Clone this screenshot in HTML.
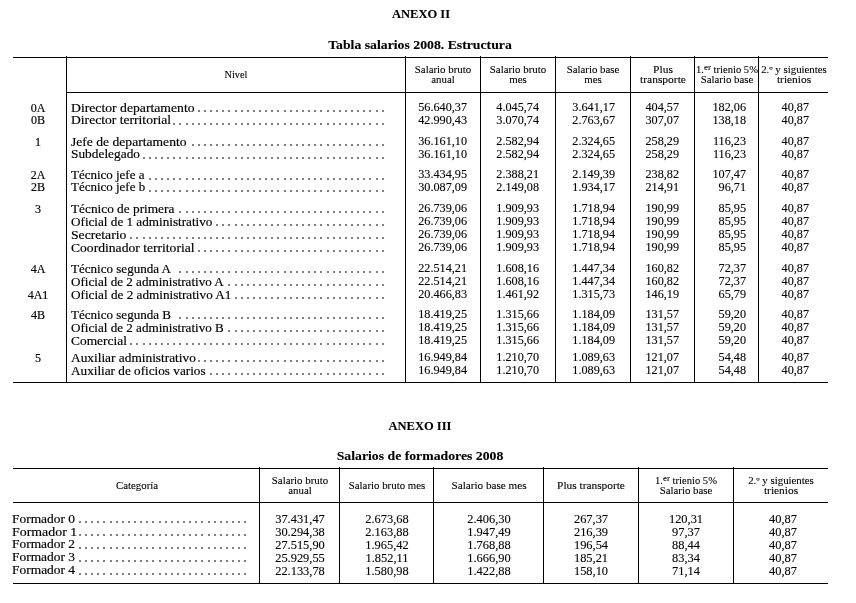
<!DOCTYPE html><html><head><meta charset='utf-8'><style>
html,body{margin:0;padding:0;background:#fff;}
body{filter:grayscale(1);width:856px;height:603px;position:relative;overflow:hidden;font-family:'Liberation Serif', serif;color:#000;}
.l{position:absolute;background:#000;}
.t{position:absolute;line-height:1;white-space:nowrap;-webkit-text-stroke:0.1px #000;}
.t.n{-webkit-text-stroke:0.12px #000;}
.t.lab,.t.lab2{-webkit-text-stroke:0.18px #000;}
.t sup{font-size:0.85em;vertical-align:0;position:relative;top:-0.38em;line-height:0;}
i{position:absolute;width:2px;height:2px;background:#808080;}
.d{position:absolute;height:1.5px;background-image:linear-gradient(to right, transparent 2.415px, #808080 2.415px, #808080 3.715px, transparent 3.715px);background-size:6.13px 1.5px;background-repeat:repeat-x;background-position:right top;}
</style></head><body>
<div class="t" style='left:120.50px;top:7.34px;width:600px;font-size:13.0px;text-align:center;font-weight:bold;transform:scaleX(0.962);transform-origin:center;'>ANEXO II</div>
<div class="t" style='left:120.40px;top:38.55px;width:600px;font-size:12.5px;text-align:center;font-weight:bold;transform:scaleX(1.1);transform-origin:center;'>Tabla salarios 2008. Estructura</div>
<div class="t" style='left:120.30px;top:419.04px;width:600px;font-size:13.0px;text-align:center;font-weight:bold;transform:scaleX(0.962);transform-origin:center;'>ANEXO III</div>
<div class="t" style='left:120.40px;top:449.85px;width:600px;font-size:12.5px;text-align:center;font-weight:bold;transform:scaleX(1.1);transform-origin:center;'>Salarios de formadores 2008</div>
<div class=l style='left:13px;top:57px;width:815px;height:1px'></div>
<div class=l style='left:66px;top:92px;width:762px;height:1px'></div>
<div class=l style='left:13px;top:382px;width:815px;height:1px'></div>
<div class=l style='left:66px;top:56px;width:1px;height:327px'></div>
<div class=l style='left:405px;top:56px;width:1px;height:327px'></div>
<div class=l style='left:480px;top:56px;width:1px;height:327px'></div>
<div class=l style='left:555px;top:56px;width:1px;height:327px'></div>
<div class=l style='left:630px;top:56px;width:1px;height:327px'></div>
<div class=l style='left:694px;top:56px;width:1px;height:327px'></div>
<div class=l style='left:758px;top:56px;width:1px;height:327px'></div>
<div class="t" style='left:-64.00px;top:69.93px;width:600px;font-size:9.6px;text-align:center;transform:scaleX(1.0780199999999998);transform-origin:center;'>Nivel</div>
<div class="t" style='left:143.00px;top:64.93px;width:600px;font-size:9.6px;text-align:center;transform:scaleX(1.13);transform-origin:center;'>Salario bruto</div>
<div class="t" style='left:143.00px;top:75.23px;width:600px;font-size:9.6px;text-align:center;transform:scaleX(1.13);transform-origin:center;'>anual</div>
<div class="t" style='left:218.00px;top:64.93px;width:600px;font-size:9.6px;text-align:center;transform:scaleX(1.13);transform-origin:center;'>Salario bruto</div>
<div class="t" style='left:218.00px;top:75.23px;width:600px;font-size:9.6px;text-align:center;transform:scaleX(1.13);transform-origin:center;'>mes</div>
<div class="t" style='left:293.00px;top:64.93px;width:600px;font-size:9.6px;text-align:center;transform:scaleX(1.13);transform-origin:center;'>Salario base</div>
<div class="t" style='left:293.00px;top:75.23px;width:600px;font-size:9.6px;text-align:center;transform:scaleX(1.13);transform-origin:center;'>mes</div>
<div class="t" style='left:362.50px;top:64.93px;width:600px;font-size:9.6px;text-align:center;transform:scaleX(1.19328);transform-origin:center;'>Plus</div>
<div class="t" style='left:362.50px;top:75.23px;width:600px;font-size:9.6px;text-align:center;transform:scaleX(1.1978);transform-origin:center;'>transporte</div>
<div class="t" style='left:426.50px;top:64.93px;width:600px;font-size:9.6px;text-align:center;transform:scaleX(1.1017499999999998);transform-origin:center;'>1.<sup>er</sup> trienio 5%</div>
<div class="t" style='left:426.50px;top:75.23px;width:600px;font-size:9.6px;text-align:center;transform:scaleX(1.13);transform-origin:center;'>Salario base</div>
<div class="t" style='left:493.50px;top:64.93px;width:600px;font-size:9.6px;text-align:center;transform:scaleX(1.13);transform-origin:center;'>2.º y siguientes</div>
<div class="t" style='left:493.50px;top:75.23px;width:600px;font-size:9.6px;text-align:center;transform:scaleX(1.1864999999999999);transform-origin:center;'>trienios</div>
<div class="t lab2" style='left:-262.00px;top:101.65px;width:600px;font-size:12.8px;text-align:center;transform:scaleX(0.94);transform-origin:center;'>0A</div>
<div class="t lab" style='left:70.70px;top:101.65px;width:600px;font-size:12.8px;text-align:left;transform:scaleX(1.07);transform-origin:left;'>Director departamento</div>
<i style='left:382px;top:110px'></i>
<i style='left:376px;top:110px'></i>
<i style='left:369px;top:110px'></i>
<i style='left:363px;top:110px'></i>
<i style='left:357px;top:110px'></i>
<i style='left:351px;top:110px'></i>
<i style='left:345px;top:110px'></i>
<i style='left:339px;top:110px'></i>
<i style='left:333px;top:110px'></i>
<i style='left:327px;top:110px'></i>
<i style='left:320px;top:110px'></i>
<i style='left:314px;top:110px'></i>
<i style='left:308px;top:110px'></i>
<i style='left:302px;top:110px'></i>
<i style='left:296px;top:110px'></i>
<i style='left:290px;top:110px'></i>
<i style='left:284px;top:110px'></i>
<i style='left:277px;top:110px'></i>
<i style='left:271px;top:110px'></i>
<i style='left:265px;top:110px'></i>
<i style='left:259px;top:110px'></i>
<i style='left:253px;top:110px'></i>
<i style='left:247px;top:110px'></i>
<i style='left:241px;top:110px'></i>
<i style='left:235px;top:110px'></i>
<i style='left:228px;top:110px'></i>
<i style='left:222px;top:110px'></i>
<i style='left:216px;top:110px'></i>
<i style='left:210px;top:110px'></i>
<i style='left:204px;top:110px'></i>
<i style='left:198px;top:110px'></i>
<div class="t n" style='left:-133.00px;top:100.19px;width:600px;font-size:13.0px;text-align:right;transform:scaleX(0.9385);transform-origin:right;'>56.640,37</div>
<div class="t n" style='left:-61.00px;top:100.19px;width:600px;font-size:13.0px;text-align:right;transform:scaleX(0.9385);transform-origin:right;'>4.045,74</div>
<div class="t n" style='left:14.50px;top:100.19px;width:600px;font-size:13.0px;text-align:right;transform:scaleX(0.9385);transform-origin:right;'>3.641,17</div>
<div class="t n" style='left:79.00px;top:100.19px;width:600px;font-size:13.0px;text-align:right;transform:scaleX(0.9385);transform-origin:right;'>404,57</div>
<div class="t n" style='left:146.00px;top:100.19px;width:600px;font-size:13.0px;text-align:right;transform:scaleX(0.9385);transform-origin:right;'>182,06</div>
<div class="t n" style='left:208.80px;top:100.19px;width:600px;font-size:13.0px;text-align:right;transform:scaleX(0.9385);transform-origin:right;'>40,87</div>
<div class="t lab2" style='left:-262.00px;top:114.35px;width:600px;font-size:12.8px;text-align:center;transform:scaleX(0.94);transform-origin:center;'>0B</div>
<div class="t lab" style='left:70.70px;top:114.35px;width:600px;font-size:12.8px;text-align:left;transform:scaleX(1.0627);transform-origin:left;'>Director territorial</div>
<i style='left:382px;top:123px'></i>
<i style='left:376px;top:123px'></i>
<i style='left:369px;top:123px'></i>
<i style='left:363px;top:123px'></i>
<i style='left:357px;top:123px'></i>
<i style='left:351px;top:123px'></i>
<i style='left:345px;top:123px'></i>
<i style='left:339px;top:123px'></i>
<i style='left:333px;top:123px'></i>
<i style='left:327px;top:123px'></i>
<i style='left:320px;top:123px'></i>
<i style='left:314px;top:123px'></i>
<i style='left:308px;top:123px'></i>
<i style='left:302px;top:123px'></i>
<i style='left:296px;top:123px'></i>
<i style='left:290px;top:123px'></i>
<i style='left:284px;top:123px'></i>
<i style='left:277px;top:123px'></i>
<i style='left:271px;top:123px'></i>
<i style='left:265px;top:123px'></i>
<i style='left:259px;top:123px'></i>
<i style='left:253px;top:123px'></i>
<i style='left:247px;top:123px'></i>
<i style='left:241px;top:123px'></i>
<i style='left:235px;top:123px'></i>
<i style='left:228px;top:123px'></i>
<i style='left:222px;top:123px'></i>
<i style='left:216px;top:123px'></i>
<i style='left:210px;top:123px'></i>
<i style='left:204px;top:123px'></i>
<i style='left:198px;top:123px'></i>
<i style='left:192px;top:123px'></i>
<i style='left:186px;top:123px'></i>
<i style='left:179px;top:123px'></i>
<i style='left:173px;top:123px'></i>
<div class="t n" style='left:-133.00px;top:112.89px;width:600px;font-size:13.0px;text-align:right;transform:scaleX(0.9385);transform-origin:right;'>42.990,43</div>
<div class="t n" style='left:-61.00px;top:112.89px;width:600px;font-size:13.0px;text-align:right;transform:scaleX(0.9385);transform-origin:right;'>3.070,74</div>
<div class="t n" style='left:14.50px;top:112.89px;width:600px;font-size:13.0px;text-align:right;transform:scaleX(0.9385);transform-origin:right;'>2.763,67</div>
<div class="t n" style='left:79.00px;top:112.89px;width:600px;font-size:13.0px;text-align:right;transform:scaleX(0.9385);transform-origin:right;'>307,07</div>
<div class="t n" style='left:146.00px;top:112.89px;width:600px;font-size:13.0px;text-align:right;transform:scaleX(0.9385);transform-origin:right;'>138,18</div>
<div class="t n" style='left:208.80px;top:112.89px;width:600px;font-size:13.0px;text-align:right;transform:scaleX(0.9385);transform-origin:right;'>40,87</div>
<div class="t lab2" style='left:-262.00px;top:135.55px;width:600px;font-size:12.8px;text-align:center;transform:scaleX(0.94);transform-origin:center;'>1</div>
<div class="t lab" style='left:70.70px;top:135.55px;width:600px;font-size:12.8px;text-align:left;transform:scaleX(1.0627);transform-origin:left;'>Jefe de departamento</div>
<i style='left:382px;top:144px'></i>
<i style='left:376px;top:144px'></i>
<i style='left:369px;top:144px'></i>
<i style='left:363px;top:144px'></i>
<i style='left:357px;top:144px'></i>
<i style='left:351px;top:144px'></i>
<i style='left:345px;top:144px'></i>
<i style='left:339px;top:144px'></i>
<i style='left:333px;top:144px'></i>
<i style='left:327px;top:144px'></i>
<i style='left:320px;top:144px'></i>
<i style='left:314px;top:144px'></i>
<i style='left:308px;top:144px'></i>
<i style='left:302px;top:144px'></i>
<i style='left:296px;top:144px'></i>
<i style='left:290px;top:144px'></i>
<i style='left:284px;top:144px'></i>
<i style='left:277px;top:144px'></i>
<i style='left:271px;top:144px'></i>
<i style='left:265px;top:144px'></i>
<i style='left:259px;top:144px'></i>
<i style='left:253px;top:144px'></i>
<i style='left:247px;top:144px'></i>
<i style='left:241px;top:144px'></i>
<i style='left:235px;top:144px'></i>
<i style='left:228px;top:144px'></i>
<i style='left:222px;top:144px'></i>
<i style='left:216px;top:144px'></i>
<i style='left:210px;top:144px'></i>
<i style='left:204px;top:144px'></i>
<i style='left:198px;top:144px'></i>
<i style='left:192px;top:144px'></i>
<div class="t n" style='left:-133.00px;top:134.09px;width:600px;font-size:13.0px;text-align:right;transform:scaleX(0.9385);transform-origin:right;'>36.161,10</div>
<div class="t n" style='left:-61.00px;top:134.09px;width:600px;font-size:13.0px;text-align:right;transform:scaleX(0.9385);transform-origin:right;'>2.582,94</div>
<div class="t n" style='left:14.50px;top:134.09px;width:600px;font-size:13.0px;text-align:right;transform:scaleX(0.9385);transform-origin:right;'>2.324,65</div>
<div class="t n" style='left:79.00px;top:134.09px;width:600px;font-size:13.0px;text-align:right;transform:scaleX(0.9385);transform-origin:right;'>258,29</div>
<div class="t n" style='left:146.00px;top:134.09px;width:600px;font-size:13.0px;text-align:right;transform:scaleX(0.9385);transform-origin:right;'>116,23</div>
<div class="t n" style='left:208.80px;top:134.09px;width:600px;font-size:13.0px;text-align:right;transform:scaleX(0.9385);transform-origin:right;'>40,87</div>
<div class="t lab" style='left:70.70px;top:148.25px;width:600px;font-size:12.8px;text-align:left;transform:scaleX(1.0443);transform-origin:left;'>Subdelegado</div>
<i style='left:382px;top:157px'></i>
<i style='left:376px;top:157px'></i>
<i style='left:369px;top:157px'></i>
<i style='left:363px;top:157px'></i>
<i style='left:357px;top:157px'></i>
<i style='left:351px;top:157px'></i>
<i style='left:345px;top:157px'></i>
<i style='left:339px;top:157px'></i>
<i style='left:333px;top:157px'></i>
<i style='left:327px;top:157px'></i>
<i style='left:320px;top:157px'></i>
<i style='left:314px;top:157px'></i>
<i style='left:308px;top:157px'></i>
<i style='left:302px;top:157px'></i>
<i style='left:296px;top:157px'></i>
<i style='left:290px;top:157px'></i>
<i style='left:284px;top:157px'></i>
<i style='left:277px;top:157px'></i>
<i style='left:271px;top:157px'></i>
<i style='left:265px;top:157px'></i>
<i style='left:259px;top:157px'></i>
<i style='left:253px;top:157px'></i>
<i style='left:247px;top:157px'></i>
<i style='left:241px;top:157px'></i>
<i style='left:235px;top:157px'></i>
<i style='left:228px;top:157px'></i>
<i style='left:222px;top:157px'></i>
<i style='left:216px;top:157px'></i>
<i style='left:210px;top:157px'></i>
<i style='left:204px;top:157px'></i>
<i style='left:198px;top:157px'></i>
<i style='left:192px;top:157px'></i>
<i style='left:186px;top:157px'></i>
<i style='left:179px;top:157px'></i>
<i style='left:173px;top:157px'></i>
<i style='left:167px;top:157px'></i>
<i style='left:161px;top:157px'></i>
<i style='left:155px;top:157px'></i>
<i style='left:149px;top:157px'></i>
<i style='left:143px;top:157px'></i>
<div class="t n" style='left:-133.00px;top:146.79px;width:600px;font-size:13.0px;text-align:right;transform:scaleX(0.9385);transform-origin:right;'>36.161,10</div>
<div class="t n" style='left:-61.00px;top:146.79px;width:600px;font-size:13.0px;text-align:right;transform:scaleX(0.9385);transform-origin:right;'>2.582,94</div>
<div class="t n" style='left:14.50px;top:146.79px;width:600px;font-size:13.0px;text-align:right;transform:scaleX(0.9385);transform-origin:right;'>2.324,65</div>
<div class="t n" style='left:79.00px;top:146.79px;width:600px;font-size:13.0px;text-align:right;transform:scaleX(0.9385);transform-origin:right;'>258,29</div>
<div class="t n" style='left:146.00px;top:146.79px;width:600px;font-size:13.0px;text-align:right;transform:scaleX(0.9385);transform-origin:right;'>116,23</div>
<div class="t n" style='left:208.80px;top:146.79px;width:600px;font-size:13.0px;text-align:right;transform:scaleX(0.9385);transform-origin:right;'>40,87</div>
<div class="t lab2" style='left:-262.00px;top:168.65px;width:600px;font-size:12.8px;text-align:center;transform:scaleX(0.94);transform-origin:center;'>2A</div>
<div class="t lab" style='left:70.70px;top:168.65px;width:600px;font-size:12.8px;text-align:left;transform:scaleX(1.0132);transform-origin:left;'>Técnico jefe a</div>
<i style='left:382px;top:178px'></i>
<i style='left:376px;top:178px'></i>
<i style='left:369px;top:178px'></i>
<i style='left:363px;top:178px'></i>
<i style='left:357px;top:178px'></i>
<i style='left:351px;top:178px'></i>
<i style='left:345px;top:178px'></i>
<i style='left:339px;top:178px'></i>
<i style='left:333px;top:178px'></i>
<i style='left:327px;top:178px'></i>
<i style='left:320px;top:178px'></i>
<i style='left:314px;top:178px'></i>
<i style='left:308px;top:178px'></i>
<i style='left:302px;top:178px'></i>
<i style='left:296px;top:178px'></i>
<i style='left:290px;top:178px'></i>
<i style='left:284px;top:178px'></i>
<i style='left:277px;top:178px'></i>
<i style='left:271px;top:178px'></i>
<i style='left:265px;top:178px'></i>
<i style='left:259px;top:178px'></i>
<i style='left:253px;top:178px'></i>
<i style='left:247px;top:178px'></i>
<i style='left:241px;top:178px'></i>
<i style='left:235px;top:178px'></i>
<i style='left:228px;top:178px'></i>
<i style='left:222px;top:178px'></i>
<i style='left:216px;top:178px'></i>
<i style='left:210px;top:178px'></i>
<i style='left:204px;top:178px'></i>
<i style='left:198px;top:178px'></i>
<i style='left:192px;top:178px'></i>
<i style='left:186px;top:178px'></i>
<i style='left:179px;top:178px'></i>
<i style='left:173px;top:178px'></i>
<i style='left:167px;top:178px'></i>
<i style='left:161px;top:178px'></i>
<i style='left:155px;top:178px'></i>
<i style='left:149px;top:178px'></i>
<div class="t n" style='left:-133.00px;top:167.19px;width:600px;font-size:13.0px;text-align:right;transform:scaleX(0.9385);transform-origin:right;'>33.434,95</div>
<div class="t n" style='left:-61.00px;top:167.19px;width:600px;font-size:13.0px;text-align:right;transform:scaleX(0.9385);transform-origin:right;'>2.388,21</div>
<div class="t n" style='left:14.50px;top:167.19px;width:600px;font-size:13.0px;text-align:right;transform:scaleX(0.9385);transform-origin:right;'>2.149,39</div>
<div class="t n" style='left:79.00px;top:167.19px;width:600px;font-size:13.0px;text-align:right;transform:scaleX(0.9385);transform-origin:right;'>238,82</div>
<div class="t n" style='left:146.00px;top:167.19px;width:600px;font-size:13.0px;text-align:right;transform:scaleX(0.9385);transform-origin:right;'>107,47</div>
<div class="t n" style='left:208.80px;top:167.19px;width:600px;font-size:13.0px;text-align:right;transform:scaleX(0.9385);transform-origin:right;'>40,87</div>
<div class="t lab2" style='left:-262.00px;top:181.35px;width:600px;font-size:12.8px;text-align:center;transform:scaleX(0.94);transform-origin:center;'>2B</div>
<div class="t lab" style='left:70.70px;top:181.35px;width:600px;font-size:12.8px;text-align:left;transform:scaleX(1.0132);transform-origin:left;'>Técnico jefe b</div>
<i style='left:382px;top:190px'></i>
<i style='left:376px;top:190px'></i>
<i style='left:369px;top:190px'></i>
<i style='left:363px;top:190px'></i>
<i style='left:357px;top:190px'></i>
<i style='left:351px;top:190px'></i>
<i style='left:345px;top:190px'></i>
<i style='left:339px;top:190px'></i>
<i style='left:333px;top:190px'></i>
<i style='left:327px;top:190px'></i>
<i style='left:320px;top:190px'></i>
<i style='left:314px;top:190px'></i>
<i style='left:308px;top:190px'></i>
<i style='left:302px;top:190px'></i>
<i style='left:296px;top:190px'></i>
<i style='left:290px;top:190px'></i>
<i style='left:284px;top:190px'></i>
<i style='left:277px;top:190px'></i>
<i style='left:271px;top:190px'></i>
<i style='left:265px;top:190px'></i>
<i style='left:259px;top:190px'></i>
<i style='left:253px;top:190px'></i>
<i style='left:247px;top:190px'></i>
<i style='left:241px;top:190px'></i>
<i style='left:235px;top:190px'></i>
<i style='left:228px;top:190px'></i>
<i style='left:222px;top:190px'></i>
<i style='left:216px;top:190px'></i>
<i style='left:210px;top:190px'></i>
<i style='left:204px;top:190px'></i>
<i style='left:198px;top:190px'></i>
<i style='left:192px;top:190px'></i>
<i style='left:186px;top:190px'></i>
<i style='left:179px;top:190px'></i>
<i style='left:173px;top:190px'></i>
<i style='left:167px;top:190px'></i>
<i style='left:161px;top:190px'></i>
<i style='left:155px;top:190px'></i>
<i style='left:149px;top:190px'></i>
<div class="t n" style='left:-133.00px;top:179.89px;width:600px;font-size:13.0px;text-align:right;transform:scaleX(0.9385);transform-origin:right;'>30.087,09</div>
<div class="t n" style='left:-61.00px;top:179.89px;width:600px;font-size:13.0px;text-align:right;transform:scaleX(0.9385);transform-origin:right;'>2.149,08</div>
<div class="t n" style='left:14.50px;top:179.89px;width:600px;font-size:13.0px;text-align:right;transform:scaleX(0.9385);transform-origin:right;'>1.934,17</div>
<div class="t n" style='left:79.00px;top:179.89px;width:600px;font-size:13.0px;text-align:right;transform:scaleX(0.9385);transform-origin:right;'>214,91</div>
<div class="t n" style='left:146.00px;top:179.89px;width:600px;font-size:13.0px;text-align:right;transform:scaleX(0.9385);transform-origin:right;'>96,71</div>
<div class="t n" style='left:208.80px;top:179.89px;width:600px;font-size:13.0px;text-align:right;transform:scaleX(0.9385);transform-origin:right;'>40,87</div>
<div class="t lab2" style='left:-262.00px;top:202.80px;width:600px;font-size:12.8px;text-align:center;transform:scaleX(0.94);transform-origin:center;'>3</div>
<div class="t lab" style='left:70.70px;top:202.80px;width:600px;font-size:12.8px;text-align:left;transform:scaleX(1.0386);transform-origin:left;'>Técnico de primera</div>
<i style='left:382px;top:211px'></i>
<i style='left:376px;top:211px'></i>
<i style='left:369px;top:211px'></i>
<i style='left:363px;top:211px'></i>
<i style='left:357px;top:211px'></i>
<i style='left:351px;top:211px'></i>
<i style='left:345px;top:211px'></i>
<i style='left:339px;top:211px'></i>
<i style='left:333px;top:211px'></i>
<i style='left:327px;top:211px'></i>
<i style='left:320px;top:211px'></i>
<i style='left:314px;top:211px'></i>
<i style='left:308px;top:211px'></i>
<i style='left:302px;top:211px'></i>
<i style='left:296px;top:211px'></i>
<i style='left:290px;top:211px'></i>
<i style='left:284px;top:211px'></i>
<i style='left:277px;top:211px'></i>
<i style='left:271px;top:211px'></i>
<i style='left:265px;top:211px'></i>
<i style='left:259px;top:211px'></i>
<i style='left:253px;top:211px'></i>
<i style='left:247px;top:211px'></i>
<i style='left:241px;top:211px'></i>
<i style='left:235px;top:211px'></i>
<i style='left:228px;top:211px'></i>
<i style='left:222px;top:211px'></i>
<i style='left:216px;top:211px'></i>
<i style='left:210px;top:211px'></i>
<i style='left:204px;top:211px'></i>
<i style='left:198px;top:211px'></i>
<i style='left:192px;top:211px'></i>
<i style='left:186px;top:211px'></i>
<i style='left:179px;top:211px'></i>
<div class="t n" style='left:-133.00px;top:201.34px;width:600px;font-size:13.0px;text-align:right;transform:scaleX(0.9385);transform-origin:right;'>26.739,06</div>
<div class="t n" style='left:-61.00px;top:201.34px;width:600px;font-size:13.0px;text-align:right;transform:scaleX(0.9385);transform-origin:right;'>1.909,93</div>
<div class="t n" style='left:14.50px;top:201.34px;width:600px;font-size:13.0px;text-align:right;transform:scaleX(0.9385);transform-origin:right;'>1.718,94</div>
<div class="t n" style='left:79.00px;top:201.34px;width:600px;font-size:13.0px;text-align:right;transform:scaleX(0.9385);transform-origin:right;'>190,99</div>
<div class="t n" style='left:146.00px;top:201.34px;width:600px;font-size:13.0px;text-align:right;transform:scaleX(0.9385);transform-origin:right;'>85,95</div>
<div class="t n" style='left:208.80px;top:201.34px;width:600px;font-size:13.0px;text-align:right;transform:scaleX(0.9385);transform-origin:right;'>40,87</div>
<div class="t lab" style='left:70.70px;top:215.80px;width:600px;font-size:12.8px;text-align:left;transform:scaleX(1.0278);transform-origin:left;'>Oficial de 1 administrativo</div>
<i style='left:382px;top:224px'></i>
<i style='left:376px;top:224px'></i>
<i style='left:369px;top:224px'></i>
<i style='left:363px;top:224px'></i>
<i style='left:357px;top:224px'></i>
<i style='left:351px;top:224px'></i>
<i style='left:345px;top:224px'></i>
<i style='left:339px;top:224px'></i>
<i style='left:333px;top:224px'></i>
<i style='left:327px;top:224px'></i>
<i style='left:320px;top:224px'></i>
<i style='left:314px;top:224px'></i>
<i style='left:308px;top:224px'></i>
<i style='left:302px;top:224px'></i>
<i style='left:296px;top:224px'></i>
<i style='left:290px;top:224px'></i>
<i style='left:284px;top:224px'></i>
<i style='left:277px;top:224px'></i>
<i style='left:271px;top:224px'></i>
<i style='left:265px;top:224px'></i>
<i style='left:259px;top:224px'></i>
<i style='left:253px;top:224px'></i>
<i style='left:247px;top:224px'></i>
<i style='left:241px;top:224px'></i>
<i style='left:235px;top:224px'></i>
<i style='left:228px;top:224px'></i>
<i style='left:222px;top:224px'></i>
<i style='left:216px;top:224px'></i>
<div class="t n" style='left:-133.00px;top:214.34px;width:600px;font-size:13.0px;text-align:right;transform:scaleX(0.9385);transform-origin:right;'>26.739,06</div>
<div class="t n" style='left:-61.00px;top:214.34px;width:600px;font-size:13.0px;text-align:right;transform:scaleX(0.9385);transform-origin:right;'>1.909,93</div>
<div class="t n" style='left:14.50px;top:214.34px;width:600px;font-size:13.0px;text-align:right;transform:scaleX(0.9385);transform-origin:right;'>1.718,94</div>
<div class="t n" style='left:79.00px;top:214.34px;width:600px;font-size:13.0px;text-align:right;transform:scaleX(0.9385);transform-origin:right;'>190,99</div>
<div class="t n" style='left:146.00px;top:214.34px;width:600px;font-size:13.0px;text-align:right;transform:scaleX(0.9385);transform-origin:right;'>85,95</div>
<div class="t n" style='left:208.80px;top:214.34px;width:600px;font-size:13.0px;text-align:right;transform:scaleX(0.9385);transform-origin:right;'>40,87</div>
<div class="t lab" style='left:70.70px;top:228.70px;width:600px;font-size:12.8px;text-align:left;transform:scaleX(1.0669);transform-origin:left;'>Secretario</div>
<i style='left:382px;top:237px'></i>
<i style='left:376px;top:237px'></i>
<i style='left:369px;top:237px'></i>
<i style='left:363px;top:237px'></i>
<i style='left:357px;top:237px'></i>
<i style='left:351px;top:237px'></i>
<i style='left:345px;top:237px'></i>
<i style='left:339px;top:237px'></i>
<i style='left:333px;top:237px'></i>
<i style='left:327px;top:237px'></i>
<i style='left:320px;top:237px'></i>
<i style='left:314px;top:237px'></i>
<i style='left:308px;top:237px'></i>
<i style='left:302px;top:237px'></i>
<i style='left:296px;top:237px'></i>
<i style='left:290px;top:237px'></i>
<i style='left:284px;top:237px'></i>
<i style='left:277px;top:237px'></i>
<i style='left:271px;top:237px'></i>
<i style='left:265px;top:237px'></i>
<i style='left:259px;top:237px'></i>
<i style='left:253px;top:237px'></i>
<i style='left:247px;top:237px'></i>
<i style='left:241px;top:237px'></i>
<i style='left:235px;top:237px'></i>
<i style='left:228px;top:237px'></i>
<i style='left:222px;top:237px'></i>
<i style='left:216px;top:237px'></i>
<i style='left:210px;top:237px'></i>
<i style='left:204px;top:237px'></i>
<i style='left:198px;top:237px'></i>
<i style='left:192px;top:237px'></i>
<i style='left:186px;top:237px'></i>
<i style='left:179px;top:237px'></i>
<i style='left:173px;top:237px'></i>
<i style='left:167px;top:237px'></i>
<i style='left:161px;top:237px'></i>
<i style='left:155px;top:237px'></i>
<i style='left:149px;top:237px'></i>
<i style='left:143px;top:237px'></i>
<i style='left:136px;top:237px'></i>
<i style='left:130px;top:237px'></i>
<div class="t n" style='left:-133.00px;top:227.24px;width:600px;font-size:13.0px;text-align:right;transform:scaleX(0.9385);transform-origin:right;'>26.739,06</div>
<div class="t n" style='left:-61.00px;top:227.24px;width:600px;font-size:13.0px;text-align:right;transform:scaleX(0.9385);transform-origin:right;'>1.909,93</div>
<div class="t n" style='left:14.50px;top:227.24px;width:600px;font-size:13.0px;text-align:right;transform:scaleX(0.9385);transform-origin:right;'>1.718,94</div>
<div class="t n" style='left:79.00px;top:227.24px;width:600px;font-size:13.0px;text-align:right;transform:scaleX(0.9385);transform-origin:right;'>190,99</div>
<div class="t n" style='left:146.00px;top:227.24px;width:600px;font-size:13.0px;text-align:right;transform:scaleX(0.9385);transform-origin:right;'>85,95</div>
<div class="t n" style='left:208.80px;top:227.24px;width:600px;font-size:13.0px;text-align:right;transform:scaleX(0.9385);transform-origin:right;'>40,87</div>
<div class="t lab" style='left:70.70px;top:241.70px;width:600px;font-size:12.8px;text-align:left;transform:scaleX(1.063);transform-origin:left;'>Coordinador territorial</div>
<i style='left:382px;top:250px'></i>
<i style='left:376px;top:250px'></i>
<i style='left:369px;top:250px'></i>
<i style='left:363px;top:250px'></i>
<i style='left:357px;top:250px'></i>
<i style='left:351px;top:250px'></i>
<i style='left:345px;top:250px'></i>
<i style='left:339px;top:250px'></i>
<i style='left:333px;top:250px'></i>
<i style='left:327px;top:250px'></i>
<i style='left:320px;top:250px'></i>
<i style='left:314px;top:250px'></i>
<i style='left:308px;top:250px'></i>
<i style='left:302px;top:250px'></i>
<i style='left:296px;top:250px'></i>
<i style='left:290px;top:250px'></i>
<i style='left:284px;top:250px'></i>
<i style='left:277px;top:250px'></i>
<i style='left:271px;top:250px'></i>
<i style='left:265px;top:250px'></i>
<i style='left:259px;top:250px'></i>
<i style='left:253px;top:250px'></i>
<i style='left:247px;top:250px'></i>
<i style='left:241px;top:250px'></i>
<i style='left:235px;top:250px'></i>
<i style='left:228px;top:250px'></i>
<i style='left:222px;top:250px'></i>
<i style='left:216px;top:250px'></i>
<i style='left:210px;top:250px'></i>
<i style='left:204px;top:250px'></i>
<i style='left:198px;top:250px'></i>
<div class="t n" style='left:-133.00px;top:240.24px;width:600px;font-size:13.0px;text-align:right;transform:scaleX(0.9385);transform-origin:right;'>26.739,06</div>
<div class="t n" style='left:-61.00px;top:240.24px;width:600px;font-size:13.0px;text-align:right;transform:scaleX(0.9385);transform-origin:right;'>1.909,93</div>
<div class="t n" style='left:14.50px;top:240.24px;width:600px;font-size:13.0px;text-align:right;transform:scaleX(0.9385);transform-origin:right;'>1.718,94</div>
<div class="t n" style='left:79.00px;top:240.24px;width:600px;font-size:13.0px;text-align:right;transform:scaleX(0.9385);transform-origin:right;'>190,99</div>
<div class="t n" style='left:146.00px;top:240.24px;width:600px;font-size:13.0px;text-align:right;transform:scaleX(0.9385);transform-origin:right;'>85,95</div>
<div class="t n" style='left:208.80px;top:240.24px;width:600px;font-size:13.0px;text-align:right;transform:scaleX(0.9385);transform-origin:right;'>40,87</div>
<div class="t lab2" style='left:-262.00px;top:262.75px;width:600px;font-size:12.8px;text-align:center;transform:scaleX(0.94);transform-origin:center;'>4A</div>
<div class="t lab" style='left:70.70px;top:262.75px;width:600px;font-size:12.8px;text-align:left;transform:scaleX(1.0198);transform-origin:left;'>Técnico segunda A</div>
<i style='left:382px;top:271px'></i>
<i style='left:376px;top:271px'></i>
<i style='left:369px;top:271px'></i>
<i style='left:363px;top:271px'></i>
<i style='left:357px;top:271px'></i>
<i style='left:351px;top:271px'></i>
<i style='left:345px;top:271px'></i>
<i style='left:339px;top:271px'></i>
<i style='left:333px;top:271px'></i>
<i style='left:327px;top:271px'></i>
<i style='left:320px;top:271px'></i>
<i style='left:314px;top:271px'></i>
<i style='left:308px;top:271px'></i>
<i style='left:302px;top:271px'></i>
<i style='left:296px;top:271px'></i>
<i style='left:290px;top:271px'></i>
<i style='left:284px;top:271px'></i>
<i style='left:277px;top:271px'></i>
<i style='left:271px;top:271px'></i>
<i style='left:265px;top:271px'></i>
<i style='left:259px;top:271px'></i>
<i style='left:253px;top:271px'></i>
<i style='left:247px;top:271px'></i>
<i style='left:241px;top:271px'></i>
<i style='left:235px;top:271px'></i>
<i style='left:228px;top:271px'></i>
<i style='left:222px;top:271px'></i>
<i style='left:216px;top:271px'></i>
<i style='left:210px;top:271px'></i>
<i style='left:204px;top:271px'></i>
<i style='left:198px;top:271px'></i>
<i style='left:192px;top:271px'></i>
<i style='left:186px;top:271px'></i>
<i style='left:179px;top:271px'></i>
<div class="t n" style='left:-133.00px;top:261.29px;width:600px;font-size:13.0px;text-align:right;transform:scaleX(0.9385);transform-origin:right;'>22.514,21</div>
<div class="t n" style='left:-61.00px;top:261.29px;width:600px;font-size:13.0px;text-align:right;transform:scaleX(0.9385);transform-origin:right;'>1.608,16</div>
<div class="t n" style='left:14.50px;top:261.29px;width:600px;font-size:13.0px;text-align:right;transform:scaleX(0.9385);transform-origin:right;'>1.447,34</div>
<div class="t n" style='left:79.00px;top:261.29px;width:600px;font-size:13.0px;text-align:right;transform:scaleX(0.9385);transform-origin:right;'>160,82</div>
<div class="t n" style='left:146.00px;top:261.29px;width:600px;font-size:13.0px;text-align:right;transform:scaleX(0.9385);transform-origin:right;'>72,37</div>
<div class="t n" style='left:208.80px;top:261.29px;width:600px;font-size:13.0px;text-align:right;transform:scaleX(0.9385);transform-origin:right;'>40,87</div>
<div class="t lab" style='left:70.70px;top:275.55px;width:600px;font-size:12.8px;text-align:left;transform:scaleX(1.0238);transform-origin:left;'>Oficial de 2 administrativo A</div>
<i style='left:382px;top:284px'></i>
<i style='left:376px;top:284px'></i>
<i style='left:369px;top:284px'></i>
<i style='left:363px;top:284px'></i>
<i style='left:357px;top:284px'></i>
<i style='left:351px;top:284px'></i>
<i style='left:345px;top:284px'></i>
<i style='left:339px;top:284px'></i>
<i style='left:333px;top:284px'></i>
<i style='left:327px;top:284px'></i>
<i style='left:320px;top:284px'></i>
<i style='left:314px;top:284px'></i>
<i style='left:308px;top:284px'></i>
<i style='left:302px;top:284px'></i>
<i style='left:296px;top:284px'></i>
<i style='left:290px;top:284px'></i>
<i style='left:284px;top:284px'></i>
<i style='left:277px;top:284px'></i>
<i style='left:271px;top:284px'></i>
<i style='left:265px;top:284px'></i>
<i style='left:259px;top:284px'></i>
<i style='left:253px;top:284px'></i>
<i style='left:247px;top:284px'></i>
<i style='left:241px;top:284px'></i>
<i style='left:235px;top:284px'></i>
<i style='left:228px;top:284px'></i>
<div class="t n" style='left:-133.00px;top:274.09px;width:600px;font-size:13.0px;text-align:right;transform:scaleX(0.9385);transform-origin:right;'>22.514,21</div>
<div class="t n" style='left:-61.00px;top:274.09px;width:600px;font-size:13.0px;text-align:right;transform:scaleX(0.9385);transform-origin:right;'>1.608,16</div>
<div class="t n" style='left:14.50px;top:274.09px;width:600px;font-size:13.0px;text-align:right;transform:scaleX(0.9385);transform-origin:right;'>1.447,34</div>
<div class="t n" style='left:79.00px;top:274.09px;width:600px;font-size:13.0px;text-align:right;transform:scaleX(0.9385);transform-origin:right;'>160,82</div>
<div class="t n" style='left:146.00px;top:274.09px;width:600px;font-size:13.0px;text-align:right;transform:scaleX(0.9385);transform-origin:right;'>72,37</div>
<div class="t n" style='left:208.80px;top:274.09px;width:600px;font-size:13.0px;text-align:right;transform:scaleX(0.9385);transform-origin:right;'>40,87</div>
<div class="t lab2" style='left:-262.00px;top:288.90px;width:600px;font-size:12.8px;text-align:center;transform:scaleX(0.94);transform-origin:center;'>4A1</div>
<div class="t lab" style='left:70.70px;top:288.90px;width:600px;font-size:12.8px;text-align:left;transform:scaleX(1.0305);transform-origin:left;'>Oficial de 2 administrativo A1</div>
<i style='left:382px;top:297px'></i>
<i style='left:376px;top:297px'></i>
<i style='left:369px;top:297px'></i>
<i style='left:363px;top:297px'></i>
<i style='left:357px;top:297px'></i>
<i style='left:351px;top:297px'></i>
<i style='left:345px;top:297px'></i>
<i style='left:339px;top:297px'></i>
<i style='left:333px;top:297px'></i>
<i style='left:327px;top:297px'></i>
<i style='left:320px;top:297px'></i>
<i style='left:314px;top:297px'></i>
<i style='left:308px;top:297px'></i>
<i style='left:302px;top:297px'></i>
<i style='left:296px;top:297px'></i>
<i style='left:290px;top:297px'></i>
<i style='left:284px;top:297px'></i>
<i style='left:277px;top:297px'></i>
<i style='left:271px;top:297px'></i>
<i style='left:265px;top:297px'></i>
<i style='left:259px;top:297px'></i>
<i style='left:253px;top:297px'></i>
<i style='left:247px;top:297px'></i>
<i style='left:241px;top:297px'></i>
<i style='left:235px;top:297px'></i>
<div class="t n" style='left:-133.00px;top:287.44px;width:600px;font-size:13.0px;text-align:right;transform:scaleX(0.9385);transform-origin:right;'>20.466,83</div>
<div class="t n" style='left:-61.00px;top:287.44px;width:600px;font-size:13.0px;text-align:right;transform:scaleX(0.9385);transform-origin:right;'>1.461,92</div>
<div class="t n" style='left:14.50px;top:287.44px;width:600px;font-size:13.0px;text-align:right;transform:scaleX(0.9385);transform-origin:right;'>1.315,73</div>
<div class="t n" style='left:79.00px;top:287.44px;width:600px;font-size:13.0px;text-align:right;transform:scaleX(0.9385);transform-origin:right;'>146,19</div>
<div class="t n" style='left:146.00px;top:287.44px;width:600px;font-size:13.0px;text-align:right;transform:scaleX(0.9385);transform-origin:right;'>65,79</div>
<div class="t n" style='left:208.80px;top:287.44px;width:600px;font-size:13.0px;text-align:right;transform:scaleX(0.9385);transform-origin:right;'>40,87</div>
<div class="t lab2" style='left:-262.00px;top:308.65px;width:600px;font-size:12.8px;text-align:center;transform:scaleX(0.94);transform-origin:center;'>4B</div>
<div class="t lab" style='left:70.70px;top:308.65px;width:600px;font-size:12.8px;text-align:left;transform:scaleX(1.0198);transform-origin:left;'>Técnico segunda B</div>
<i style='left:382px;top:317px'></i>
<i style='left:376px;top:317px'></i>
<i style='left:369px;top:317px'></i>
<i style='left:363px;top:317px'></i>
<i style='left:357px;top:317px'></i>
<i style='left:351px;top:317px'></i>
<i style='left:345px;top:317px'></i>
<i style='left:339px;top:317px'></i>
<i style='left:333px;top:317px'></i>
<i style='left:327px;top:317px'></i>
<i style='left:320px;top:317px'></i>
<i style='left:314px;top:317px'></i>
<i style='left:308px;top:317px'></i>
<i style='left:302px;top:317px'></i>
<i style='left:296px;top:317px'></i>
<i style='left:290px;top:317px'></i>
<i style='left:284px;top:317px'></i>
<i style='left:277px;top:317px'></i>
<i style='left:271px;top:317px'></i>
<i style='left:265px;top:317px'></i>
<i style='left:259px;top:317px'></i>
<i style='left:253px;top:317px'></i>
<i style='left:247px;top:317px'></i>
<i style='left:241px;top:317px'></i>
<i style='left:235px;top:317px'></i>
<i style='left:228px;top:317px'></i>
<i style='left:222px;top:317px'></i>
<i style='left:216px;top:317px'></i>
<i style='left:210px;top:317px'></i>
<i style='left:204px;top:317px'></i>
<i style='left:198px;top:317px'></i>
<i style='left:192px;top:317px'></i>
<i style='left:186px;top:317px'></i>
<i style='left:179px;top:317px'></i>
<div class="t n" style='left:-133.00px;top:307.19px;width:600px;font-size:13.0px;text-align:right;transform:scaleX(0.9385);transform-origin:right;'>18.419,25</div>
<div class="t n" style='left:-61.00px;top:307.19px;width:600px;font-size:13.0px;text-align:right;transform:scaleX(0.9385);transform-origin:right;'>1.315,66</div>
<div class="t n" style='left:14.50px;top:307.19px;width:600px;font-size:13.0px;text-align:right;transform:scaleX(0.9385);transform-origin:right;'>1.184,09</div>
<div class="t n" style='left:79.00px;top:307.19px;width:600px;font-size:13.0px;text-align:right;transform:scaleX(0.9385);transform-origin:right;'>131,57</div>
<div class="t n" style='left:146.00px;top:307.19px;width:600px;font-size:13.0px;text-align:right;transform:scaleX(0.9385);transform-origin:right;'>59,20</div>
<div class="t n" style='left:208.80px;top:307.19px;width:600px;font-size:13.0px;text-align:right;transform:scaleX(0.9385);transform-origin:right;'>40,87</div>
<div class="t lab" style='left:70.70px;top:321.70px;width:600px;font-size:12.8px;text-align:left;transform:scaleX(1.0239);transform-origin:left;'>Oficial de 2 administrativo B</div>
<i style='left:382px;top:330px'></i>
<i style='left:376px;top:330px'></i>
<i style='left:369px;top:330px'></i>
<i style='left:363px;top:330px'></i>
<i style='left:357px;top:330px'></i>
<i style='left:351px;top:330px'></i>
<i style='left:345px;top:330px'></i>
<i style='left:339px;top:330px'></i>
<i style='left:333px;top:330px'></i>
<i style='left:327px;top:330px'></i>
<i style='left:320px;top:330px'></i>
<i style='left:314px;top:330px'></i>
<i style='left:308px;top:330px'></i>
<i style='left:302px;top:330px'></i>
<i style='left:296px;top:330px'></i>
<i style='left:290px;top:330px'></i>
<i style='left:284px;top:330px'></i>
<i style='left:277px;top:330px'></i>
<i style='left:271px;top:330px'></i>
<i style='left:265px;top:330px'></i>
<i style='left:259px;top:330px'></i>
<i style='left:253px;top:330px'></i>
<i style='left:247px;top:330px'></i>
<i style='left:241px;top:330px'></i>
<i style='left:235px;top:330px'></i>
<i style='left:228px;top:330px'></i>
<div class="t n" style='left:-133.00px;top:320.24px;width:600px;font-size:13.0px;text-align:right;transform:scaleX(0.9385);transform-origin:right;'>18.419,25</div>
<div class="t n" style='left:-61.00px;top:320.24px;width:600px;font-size:13.0px;text-align:right;transform:scaleX(0.9385);transform-origin:right;'>1.315,66</div>
<div class="t n" style='left:14.50px;top:320.24px;width:600px;font-size:13.0px;text-align:right;transform:scaleX(0.9385);transform-origin:right;'>1.184,09</div>
<div class="t n" style='left:79.00px;top:320.24px;width:600px;font-size:13.0px;text-align:right;transform:scaleX(0.9385);transform-origin:right;'>131,57</div>
<div class="t n" style='left:146.00px;top:320.24px;width:600px;font-size:13.0px;text-align:right;transform:scaleX(0.9385);transform-origin:right;'>59,20</div>
<div class="t n" style='left:208.80px;top:320.24px;width:600px;font-size:13.0px;text-align:right;transform:scaleX(0.9385);transform-origin:right;'>40,87</div>
<div class="t lab" style='left:70.70px;top:334.70px;width:600px;font-size:12.8px;text-align:left;transform:scaleX(1.0482);transform-origin:left;'>Comercial</div>
<i style='left:382px;top:343px'></i>
<i style='left:376px;top:343px'></i>
<i style='left:369px;top:343px'></i>
<i style='left:363px;top:343px'></i>
<i style='left:357px;top:343px'></i>
<i style='left:351px;top:343px'></i>
<i style='left:345px;top:343px'></i>
<i style='left:339px;top:343px'></i>
<i style='left:333px;top:343px'></i>
<i style='left:327px;top:343px'></i>
<i style='left:320px;top:343px'></i>
<i style='left:314px;top:343px'></i>
<i style='left:308px;top:343px'></i>
<i style='left:302px;top:343px'></i>
<i style='left:296px;top:343px'></i>
<i style='left:290px;top:343px'></i>
<i style='left:284px;top:343px'></i>
<i style='left:277px;top:343px'></i>
<i style='left:271px;top:343px'></i>
<i style='left:265px;top:343px'></i>
<i style='left:259px;top:343px'></i>
<i style='left:253px;top:343px'></i>
<i style='left:247px;top:343px'></i>
<i style='left:241px;top:343px'></i>
<i style='left:235px;top:343px'></i>
<i style='left:228px;top:343px'></i>
<i style='left:222px;top:343px'></i>
<i style='left:216px;top:343px'></i>
<i style='left:210px;top:343px'></i>
<i style='left:204px;top:343px'></i>
<i style='left:198px;top:343px'></i>
<i style='left:192px;top:343px'></i>
<i style='left:186px;top:343px'></i>
<i style='left:179px;top:343px'></i>
<i style='left:173px;top:343px'></i>
<i style='left:167px;top:343px'></i>
<i style='left:161px;top:343px'></i>
<i style='left:155px;top:343px'></i>
<i style='left:149px;top:343px'></i>
<i style='left:143px;top:343px'></i>
<i style='left:136px;top:343px'></i>
<i style='left:130px;top:343px'></i>
<div class="t n" style='left:-133.00px;top:333.24px;width:600px;font-size:13.0px;text-align:right;transform:scaleX(0.9385);transform-origin:right;'>18.419,25</div>
<div class="t n" style='left:-61.00px;top:333.24px;width:600px;font-size:13.0px;text-align:right;transform:scaleX(0.9385);transform-origin:right;'>1.315,66</div>
<div class="t n" style='left:14.50px;top:333.24px;width:600px;font-size:13.0px;text-align:right;transform:scaleX(0.9385);transform-origin:right;'>1.184,09</div>
<div class="t n" style='left:79.00px;top:333.24px;width:600px;font-size:13.0px;text-align:right;transform:scaleX(0.9385);transform-origin:right;'>131,57</div>
<div class="t n" style='left:146.00px;top:333.24px;width:600px;font-size:13.0px;text-align:right;transform:scaleX(0.9385);transform-origin:right;'>59,20</div>
<div class="t n" style='left:208.80px;top:333.24px;width:600px;font-size:13.0px;text-align:right;transform:scaleX(0.9385);transform-origin:right;'>40,87</div>
<div class="t lab2" style='left:-262.00px;top:351.90px;width:600px;font-size:12.8px;text-align:center;transform:scaleX(0.94);transform-origin:center;'>5</div>
<div class="t lab" style='left:70.70px;top:351.90px;width:600px;font-size:12.8px;text-align:left;transform:scaleX(1.0425);transform-origin:left;'>Auxiliar administrativo</div>
<i style='left:382px;top:360px'></i>
<i style='left:376px;top:360px'></i>
<i style='left:369px;top:360px'></i>
<i style='left:363px;top:360px'></i>
<i style='left:357px;top:360px'></i>
<i style='left:351px;top:360px'></i>
<i style='left:345px;top:360px'></i>
<i style='left:339px;top:360px'></i>
<i style='left:333px;top:360px'></i>
<i style='left:327px;top:360px'></i>
<i style='left:320px;top:360px'></i>
<i style='left:314px;top:360px'></i>
<i style='left:308px;top:360px'></i>
<i style='left:302px;top:360px'></i>
<i style='left:296px;top:360px'></i>
<i style='left:290px;top:360px'></i>
<i style='left:284px;top:360px'></i>
<i style='left:277px;top:360px'></i>
<i style='left:271px;top:360px'></i>
<i style='left:265px;top:360px'></i>
<i style='left:259px;top:360px'></i>
<i style='left:253px;top:360px'></i>
<i style='left:247px;top:360px'></i>
<i style='left:241px;top:360px'></i>
<i style='left:235px;top:360px'></i>
<i style='left:228px;top:360px'></i>
<i style='left:222px;top:360px'></i>
<i style='left:216px;top:360px'></i>
<i style='left:210px;top:360px'></i>
<i style='left:204px;top:360px'></i>
<i style='left:198px;top:360px'></i>
<div class="t n" style='left:-133.00px;top:350.44px;width:600px;font-size:13.0px;text-align:right;transform:scaleX(0.9385);transform-origin:right;'>16.949,84</div>
<div class="t n" style='left:-61.00px;top:350.44px;width:600px;font-size:13.0px;text-align:right;transform:scaleX(0.9385);transform-origin:right;'>1.210,70</div>
<div class="t n" style='left:14.50px;top:350.44px;width:600px;font-size:13.0px;text-align:right;transform:scaleX(0.9385);transform-origin:right;'>1.089,63</div>
<div class="t n" style='left:79.00px;top:350.44px;width:600px;font-size:13.0px;text-align:right;transform:scaleX(0.9385);transform-origin:right;'>121,07</div>
<div class="t n" style='left:146.00px;top:350.44px;width:600px;font-size:13.0px;text-align:right;transform:scaleX(0.9385);transform-origin:right;'>54,48</div>
<div class="t n" style='left:208.80px;top:350.44px;width:600px;font-size:13.0px;text-align:right;transform:scaleX(0.9385);transform-origin:right;'>40,87</div>
<div class="t lab" style='left:70.70px;top:364.90px;width:600px;font-size:12.8px;text-align:left;transform:scaleX(1.0317);transform-origin:left;'>Auxiliar de oficios varios</div>
<i style='left:382px;top:373px'></i>
<i style='left:376px;top:373px'></i>
<i style='left:369px;top:373px'></i>
<i style='left:363px;top:373px'></i>
<i style='left:357px;top:373px'></i>
<i style='left:351px;top:373px'></i>
<i style='left:345px;top:373px'></i>
<i style='left:339px;top:373px'></i>
<i style='left:333px;top:373px'></i>
<i style='left:327px;top:373px'></i>
<i style='left:320px;top:373px'></i>
<i style='left:314px;top:373px'></i>
<i style='left:308px;top:373px'></i>
<i style='left:302px;top:373px'></i>
<i style='left:296px;top:373px'></i>
<i style='left:290px;top:373px'></i>
<i style='left:284px;top:373px'></i>
<i style='left:277px;top:373px'></i>
<i style='left:271px;top:373px'></i>
<i style='left:265px;top:373px'></i>
<i style='left:259px;top:373px'></i>
<i style='left:253px;top:373px'></i>
<i style='left:247px;top:373px'></i>
<i style='left:241px;top:373px'></i>
<i style='left:235px;top:373px'></i>
<i style='left:228px;top:373px'></i>
<i style='left:222px;top:373px'></i>
<i style='left:216px;top:373px'></i>
<i style='left:210px;top:373px'></i>
<div class="t n" style='left:-133.00px;top:363.44px;width:600px;font-size:13.0px;text-align:right;transform:scaleX(0.9385);transform-origin:right;'>16.949,84</div>
<div class="t n" style='left:-61.00px;top:363.44px;width:600px;font-size:13.0px;text-align:right;transform:scaleX(0.9385);transform-origin:right;'>1.210,70</div>
<div class="t n" style='left:14.50px;top:363.44px;width:600px;font-size:13.0px;text-align:right;transform:scaleX(0.9385);transform-origin:right;'>1.089,63</div>
<div class="t n" style='left:79.00px;top:363.44px;width:600px;font-size:13.0px;text-align:right;transform:scaleX(0.9385);transform-origin:right;'>121,07</div>
<div class="t n" style='left:146.00px;top:363.44px;width:600px;font-size:13.0px;text-align:right;transform:scaleX(0.9385);transform-origin:right;'>54,48</div>
<div class="t n" style='left:208.80px;top:363.44px;width:600px;font-size:13.0px;text-align:right;transform:scaleX(0.9385);transform-origin:right;'>40,87</div>
<div class=l style='left:13px;top:468px;width:815px;height:1px'></div>
<div class=l style='left:13px;top:502px;width:815px;height:1px'></div>
<div class=l style='left:13px;top:583px;width:815px;height:1px'></div>
<div class=l style='left:259px;top:467px;width:1px;height:117px'></div>
<div class=l style='left:339px;top:467px;width:1px;height:117px'></div>
<div class=l style='left:433px;top:467px;width:1px;height:117px'></div>
<div class=l style='left:543px;top:467px;width:1px;height:117px'></div>
<div class=l style='left:638px;top:467px;width:1px;height:117px'></div>
<div class=l style='left:733px;top:467px;width:1px;height:117px'></div>
<div class="t" style='left:-163.50px;top:480.93px;width:600px;font-size:9.6px;text-align:center;transform:scaleX(1.13);transform-origin:center;'>Categoría</div>
<div class="t" style='left:-0.50px;top:475.83px;width:600px;font-size:9.6px;text-align:center;transform:scaleX(1.13);transform-origin:center;'>Salario bruto</div>
<div class="t" style='left:-0.50px;top:485.93px;width:600px;font-size:9.6px;text-align:center;transform:scaleX(1.13);transform-origin:center;'>anual</div>
<div class="t" style='left:86.50px;top:480.93px;width:600px;font-size:9.6px;text-align:center;transform:scaleX(1.13);transform-origin:center;'>Salario bruto mes</div>
<div class="t" style='left:188.50px;top:480.93px;width:600px;font-size:9.6px;text-align:center;transform:scaleX(1.1627699999999999);transform-origin:center;'>Salario base mes</div>
<div class="t" style='left:291.00px;top:480.93px;width:600px;font-size:9.6px;text-align:center;transform:scaleX(1.1831099999999999);transform-origin:center;'>Plus transporte</div>
<div class="t" style='left:386.00px;top:475.83px;width:600px;font-size:9.6px;text-align:center;transform:scaleX(1.1017499999999998);transform-origin:center;'>1.<sup>er</sup> trienio 5%</div>
<div class="t" style='left:386.00px;top:485.93px;width:600px;font-size:9.6px;text-align:center;transform:scaleX(1.13);transform-origin:center;'>Salario base</div>
<div class="t" style='left:481.00px;top:475.83px;width:600px;font-size:9.6px;text-align:center;transform:scaleX(1.13);transform-origin:center;'>2.º y siguientes</div>
<div class="t" style='left:481.00px;top:485.93px;width:600px;font-size:9.6px;text-align:center;transform:scaleX(1.1864999999999999);transform-origin:center;'>trienios</div>
<div class="t lab" style='left:12.40px;top:512.90px;width:600px;font-size:12.8px;text-align:left;transform:scaleX(1.0502);transform-origin:left;'>Formador 0</div>
<i style='left:244px;top:521px'></i>
<i style='left:238px;top:521px'></i>
<i style='left:232px;top:521px'></i>
<i style='left:226px;top:521px'></i>
<i style='left:220px;top:521px'></i>
<i style='left:214px;top:521px'></i>
<i style='left:208px;top:521px'></i>
<i style='left:201px;top:521px'></i>
<i style='left:195px;top:521px'></i>
<i style='left:189px;top:521px'></i>
<i style='left:183px;top:521px'></i>
<i style='left:177px;top:521px'></i>
<i style='left:171px;top:521px'></i>
<i style='left:165px;top:521px'></i>
<i style='left:159px;top:521px'></i>
<i style='left:152px;top:521px'></i>
<i style='left:146px;top:521px'></i>
<i style='left:140px;top:521px'></i>
<i style='left:134px;top:521px'></i>
<i style='left:128px;top:521px'></i>
<i style='left:122px;top:521px'></i>
<i style='left:116px;top:521px'></i>
<i style='left:110px;top:521px'></i>
<i style='left:103px;top:521px'></i>
<i style='left:97px;top:521px'></i>
<i style='left:91px;top:521px'></i>
<i style='left:85px;top:521px'></i>
<i style='left:79px;top:521px'></i>
<div class="t n" style='left:-0.50px;top:512.24px;width:600px;font-size:13.0px;text-align:center;transform:scaleX(0.9538);transform-origin:center;'>37.431,47</div>
<div class="t n" style='left:86.50px;top:512.24px;width:600px;font-size:13.0px;text-align:center;transform:scaleX(0.9538);transform-origin:center;'>2.673,68</div>
<div class="t n" style='left:188.50px;top:512.24px;width:600px;font-size:13.0px;text-align:center;transform:scaleX(0.9538);transform-origin:center;'>2.406,30</div>
<div class="t n" style='left:291.00px;top:512.24px;width:600px;font-size:13.0px;text-align:center;transform:scaleX(0.9538);transform-origin:center;'>267,37</div>
<div class="t n" style='left:386.00px;top:512.24px;width:600px;font-size:13.0px;text-align:center;transform:scaleX(0.9538);transform-origin:center;'>120,31</div>
<div class="t n" style='left:482.50px;top:512.24px;width:600px;font-size:13.0px;text-align:center;transform:scaleX(0.9538);transform-origin:center;'>40,87</div>
<div class="t lab" style='left:12.40px;top:525.70px;width:600px;font-size:12.8px;text-align:left;transform:scaleX(1.0848);transform-origin:left;'>Formador 1</div>
<i style='left:244px;top:534px'></i>
<i style='left:238px;top:534px'></i>
<i style='left:232px;top:534px'></i>
<i style='left:226px;top:534px'></i>
<i style='left:220px;top:534px'></i>
<i style='left:214px;top:534px'></i>
<i style='left:208px;top:534px'></i>
<i style='left:201px;top:534px'></i>
<i style='left:195px;top:534px'></i>
<i style='left:189px;top:534px'></i>
<i style='left:183px;top:534px'></i>
<i style='left:177px;top:534px'></i>
<i style='left:171px;top:534px'></i>
<i style='left:165px;top:534px'></i>
<i style='left:159px;top:534px'></i>
<i style='left:152px;top:534px'></i>
<i style='left:146px;top:534px'></i>
<i style='left:140px;top:534px'></i>
<i style='left:134px;top:534px'></i>
<i style='left:128px;top:534px'></i>
<i style='left:122px;top:534px'></i>
<i style='left:116px;top:534px'></i>
<i style='left:110px;top:534px'></i>
<i style='left:103px;top:534px'></i>
<i style='left:97px;top:534px'></i>
<i style='left:91px;top:534px'></i>
<i style='left:85px;top:534px'></i>
<i style='left:79px;top:534px'></i>
<div class="t n" style='left:-0.50px;top:525.04px;width:600px;font-size:13.0px;text-align:center;transform:scaleX(0.9538);transform-origin:center;'>30.294,38</div>
<div class="t n" style='left:86.50px;top:525.04px;width:600px;font-size:13.0px;text-align:center;transform:scaleX(0.9538);transform-origin:center;'>2.163,88</div>
<div class="t n" style='left:188.50px;top:525.04px;width:600px;font-size:13.0px;text-align:center;transform:scaleX(0.9538);transform-origin:center;'>1.947,49</div>
<div class="t n" style='left:291.00px;top:525.04px;width:600px;font-size:13.0px;text-align:center;transform:scaleX(0.9538);transform-origin:center;'>216,39</div>
<div class="t n" style='left:386.00px;top:525.04px;width:600px;font-size:13.0px;text-align:center;transform:scaleX(0.9538);transform-origin:center;'>97,37</div>
<div class="t n" style='left:482.50px;top:525.04px;width:600px;font-size:13.0px;text-align:center;transform:scaleX(0.9538);transform-origin:center;'>40,87</div>
<div class="t lab" style='left:12.40px;top:538.40px;width:600px;font-size:12.8px;text-align:left;transform:scaleX(1.0502);transform-origin:left;'>Formador 2</div>
<i style='left:244px;top:547px'></i>
<i style='left:238px;top:547px'></i>
<i style='left:232px;top:547px'></i>
<i style='left:226px;top:547px'></i>
<i style='left:220px;top:547px'></i>
<i style='left:214px;top:547px'></i>
<i style='left:208px;top:547px'></i>
<i style='left:201px;top:547px'></i>
<i style='left:195px;top:547px'></i>
<i style='left:189px;top:547px'></i>
<i style='left:183px;top:547px'></i>
<i style='left:177px;top:547px'></i>
<i style='left:171px;top:547px'></i>
<i style='left:165px;top:547px'></i>
<i style='left:159px;top:547px'></i>
<i style='left:152px;top:547px'></i>
<i style='left:146px;top:547px'></i>
<i style='left:140px;top:547px'></i>
<i style='left:134px;top:547px'></i>
<i style='left:128px;top:547px'></i>
<i style='left:122px;top:547px'></i>
<i style='left:116px;top:547px'></i>
<i style='left:110px;top:547px'></i>
<i style='left:103px;top:547px'></i>
<i style='left:97px;top:547px'></i>
<i style='left:91px;top:547px'></i>
<i style='left:85px;top:547px'></i>
<i style='left:79px;top:547px'></i>
<div class="t n" style='left:-0.50px;top:537.74px;width:600px;font-size:13.0px;text-align:center;transform:scaleX(0.9538);transform-origin:center;'>27.515,90</div>
<div class="t n" style='left:86.50px;top:537.74px;width:600px;font-size:13.0px;text-align:center;transform:scaleX(0.9538);transform-origin:center;'>1.965,42</div>
<div class="t n" style='left:188.50px;top:537.74px;width:600px;font-size:13.0px;text-align:center;transform:scaleX(0.9538);transform-origin:center;'>1.768,88</div>
<div class="t n" style='left:291.00px;top:537.74px;width:600px;font-size:13.0px;text-align:center;transform:scaleX(0.9538);transform-origin:center;'>196,54</div>
<div class="t n" style='left:386.00px;top:537.74px;width:600px;font-size:13.0px;text-align:center;transform:scaleX(0.9538);transform-origin:center;'>88,44</div>
<div class="t n" style='left:482.50px;top:537.74px;width:600px;font-size:13.0px;text-align:center;transform:scaleX(0.9538);transform-origin:center;'>40,87</div>
<div class="t lab" style='left:12.40px;top:551.30px;width:600px;font-size:12.8px;text-align:left;transform:scaleX(1.0502);transform-origin:left;'>Formador 3</div>
<i style='left:244px;top:560px'></i>
<i style='left:238px;top:560px'></i>
<i style='left:232px;top:560px'></i>
<i style='left:226px;top:560px'></i>
<i style='left:220px;top:560px'></i>
<i style='left:214px;top:560px'></i>
<i style='left:208px;top:560px'></i>
<i style='left:201px;top:560px'></i>
<i style='left:195px;top:560px'></i>
<i style='left:189px;top:560px'></i>
<i style='left:183px;top:560px'></i>
<i style='left:177px;top:560px'></i>
<i style='left:171px;top:560px'></i>
<i style='left:165px;top:560px'></i>
<i style='left:159px;top:560px'></i>
<i style='left:152px;top:560px'></i>
<i style='left:146px;top:560px'></i>
<i style='left:140px;top:560px'></i>
<i style='left:134px;top:560px'></i>
<i style='left:128px;top:560px'></i>
<i style='left:122px;top:560px'></i>
<i style='left:116px;top:560px'></i>
<i style='left:110px;top:560px'></i>
<i style='left:103px;top:560px'></i>
<i style='left:97px;top:560px'></i>
<i style='left:91px;top:560px'></i>
<i style='left:85px;top:560px'></i>
<i style='left:79px;top:560px'></i>
<div class="t n" style='left:-0.50px;top:550.64px;width:600px;font-size:13.0px;text-align:center;transform:scaleX(0.9538);transform-origin:center;'>25.929,55</div>
<div class="t n" style='left:86.50px;top:550.64px;width:600px;font-size:13.0px;text-align:center;transform:scaleX(0.9538);transform-origin:center;'>1.852,11</div>
<div class="t n" style='left:188.50px;top:550.64px;width:600px;font-size:13.0px;text-align:center;transform:scaleX(0.9538);transform-origin:center;'>1.666,90</div>
<div class="t n" style='left:291.00px;top:550.64px;width:600px;font-size:13.0px;text-align:center;transform:scaleX(0.9538);transform-origin:center;'>185,21</div>
<div class="t n" style='left:386.00px;top:550.64px;width:600px;font-size:13.0px;text-align:center;transform:scaleX(0.9538);transform-origin:center;'>83,34</div>
<div class="t n" style='left:482.50px;top:550.64px;width:600px;font-size:13.0px;text-align:center;transform:scaleX(0.9538);transform-origin:center;'>40,87</div>
<div class="t lab" style='left:12.40px;top:564.30px;width:600px;font-size:12.8px;text-align:left;transform:scaleX(1.0503);transform-origin:left;'>Formador 4</div>
<i style='left:244px;top:573px'></i>
<i style='left:238px;top:573px'></i>
<i style='left:232px;top:573px'></i>
<i style='left:226px;top:573px'></i>
<i style='left:220px;top:573px'></i>
<i style='left:214px;top:573px'></i>
<i style='left:208px;top:573px'></i>
<i style='left:201px;top:573px'></i>
<i style='left:195px;top:573px'></i>
<i style='left:189px;top:573px'></i>
<i style='left:183px;top:573px'></i>
<i style='left:177px;top:573px'></i>
<i style='left:171px;top:573px'></i>
<i style='left:165px;top:573px'></i>
<i style='left:159px;top:573px'></i>
<i style='left:152px;top:573px'></i>
<i style='left:146px;top:573px'></i>
<i style='left:140px;top:573px'></i>
<i style='left:134px;top:573px'></i>
<i style='left:128px;top:573px'></i>
<i style='left:122px;top:573px'></i>
<i style='left:116px;top:573px'></i>
<i style='left:110px;top:573px'></i>
<i style='left:103px;top:573px'></i>
<i style='left:97px;top:573px'></i>
<i style='left:91px;top:573px'></i>
<i style='left:85px;top:573px'></i>
<i style='left:79px;top:573px'></i>
<div class="t n" style='left:-0.50px;top:563.64px;width:600px;font-size:13.0px;text-align:center;transform:scaleX(0.9538);transform-origin:center;'>22.133,78</div>
<div class="t n" style='left:86.50px;top:563.64px;width:600px;font-size:13.0px;text-align:center;transform:scaleX(0.9538);transform-origin:center;'>1.580,98</div>
<div class="t n" style='left:188.50px;top:563.64px;width:600px;font-size:13.0px;text-align:center;transform:scaleX(0.9538);transform-origin:center;'>1.422,88</div>
<div class="t n" style='left:291.00px;top:563.64px;width:600px;font-size:13.0px;text-align:center;transform:scaleX(0.9538);transform-origin:center;'>158,10</div>
<div class="t n" style='left:386.00px;top:563.64px;width:600px;font-size:13.0px;text-align:center;transform:scaleX(0.9538);transform-origin:center;'>71,14</div>
<div class="t n" style='left:482.50px;top:563.64px;width:600px;font-size:13.0px;text-align:center;transform:scaleX(0.9538);transform-origin:center;'>40,87</div>
</body></html>
